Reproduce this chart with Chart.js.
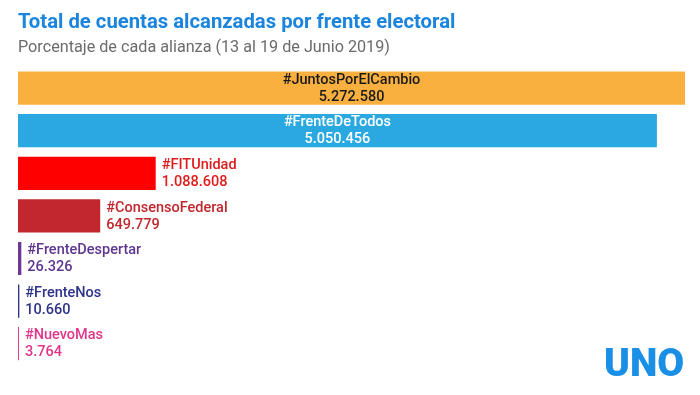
<!DOCTYPE html>
<html>
<head>
<meta charset="utf-8">
<script src="https://cdn.jsdelivr.net/npm/chart.js@4/dist/chart.umd.min.js"></script>
<style>
  html, body { margin: 0; padding: 0; background: #fff; }
  #wrap { position: relative; width: 700px; height: 395px; }
  #logo {
    position: absolute; left: 604px; top: 340px;
    font-family: Roboto, sans-serif; font-weight: 900; font-size: 39px;
    color: #1a8fe6; letter-spacing: 0px;
  }
</style>
</head>
<body>
<div id="wrap">
  <canvas id="chart" width="700" height="395"></canvas>
  <div id="logo">UNO</div>
</div>
<script>
const labels = ['#JuntosPorElCambio', '#FrenteDeTodos', '#FITUnidad', '#ConsensoFederal', '#FrenteDespertar', '#FrenteNos', '#NuevoMas'];
const values = [5272580, 5050456, 1088608, 649779, 26326, 10660, 3764];
const valueLabels = ['5.272.580', '5.050.456', '1.088.608', '649.779', '26.326', '10.660', '3.764'];
const colors = ['#fab03f', '#2aa9e1', '#ff0000', '#c1272d', '#6a3795', '#2e3388', '#e8368c'];
const textColors = ['#1a1a1a', '#ffffff', '#e01b1b', '#c1272d', '#5e3690', '#2e3388', '#e0368a'];
const insideBars = [true, true, false, false, false, false, false];

const barLabels = {
  id: 'barLabels',
  afterDatasetsDraw(chart) {
    const ctx = chart.ctx;
    const meta = chart.getDatasetMeta(0);
    ctx.save();
    ctx.font = '500 14.5px Roboto, sans-serif';
    ctx.textBaseline = 'middle';
    meta.data.forEach((bar, i) => {
      ctx.fillStyle = textColors[i];
      if (insideBars[i]) {
        const cx = (bar.x + bar.base) / 2;
        ctx.textAlign = 'center';
        ctx.fillText(labels[i], cx, bar.y - 8);
        ctx.fillText(valueLabels[i], cx, bar.y + 9);
      } else {
        const x = Math.max(bar.x, bar.base + 1) + 6;
        ctx.textAlign = 'left';
        ctx.fillText(labels[i], x, bar.y - 8);
        ctx.fillText(valueLabels[i], x, bar.y + 9);
      }
    });
    ctx.restore();
  }
};

new Chart(document.getElementById('chart'), {
  type: 'bar',
  data: {
    labels,
    datasets: [{
      data: values,
      backgroundColor: colors,
      barPercentage: 0.78,
      categoryPercentage: 1,
      minBarLength: 1
    }]
  },
  options: {
    indexAxis: 'y',
    responsive: false,
    animation: false,
    layout: { padding: { left: 18, right: 15, top: 0, bottom: 30 } },
    scales: {
      x: { display: false, min: 0, max: 5272580 },
      y: { display: false }
    },
    plugins: {
      legend: { display: false },
      tooltip: { enabled: false },
      title: {
        display: true,
        text: 'Total de cuentas alcanzadas por frente electoral',
        align: 'start',
        color: '#1b84dd',
        font: { family: 'Roboto', size: 20.3, weight: 'bold' },
        padding: { top: 11, bottom: 3 }
      },
      subtitle: {
        display: true,
        text: 'Porcentaje de cada alianza (13 al 19 de Junio 2019)',
        align: 'start',
        color: '#6b6b6b',
        font: { family: 'Roboto', size: 16.2 },
        padding: { top: 0, bottom: 9 }
      }
    }
  },
  plugins: [barLabels]
});
</script>
</body>
</html>
